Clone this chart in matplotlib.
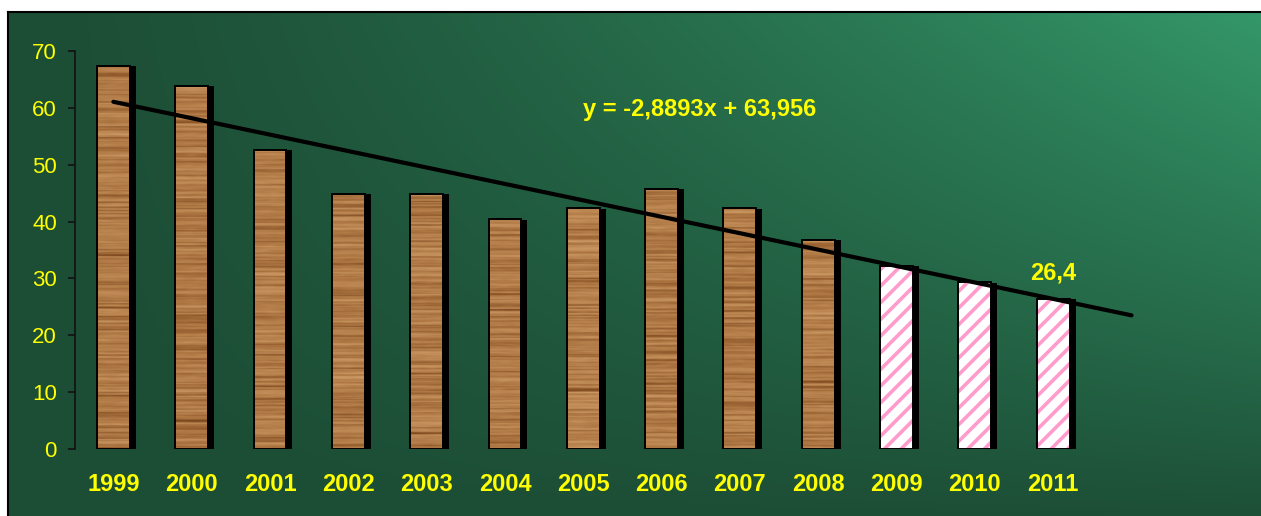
import numpy as np
import matplotlib.pyplot as plt
from matplotlib.patches import Rectangle
from matplotlib.colors import LinearSegmentedColormap

plt.rcParams['font.family'] = ['Liberation Sans', 'DejaVu Sans']
plt.rcParams['hatch.linewidth'] = 2.6

# --- data -------------------------------------------------------------
years = ['1999', '2000', '2001', '2002', '2003', '2004', '2005',
         '2006', '2007', '2008', '2009', '2010', '2011']
values = [67.4, 63.9, 52.6, 44.9, 44.9, 40.4, 42.3,
          45.8, 42.3, 36.8, 32.2, 29.3, 26.4]
n_actual = 10            # 1999-2008 measured, the rest forecast
slope = -2.8893
intercept = 63.956
trend_forward = 1        # periods the trend runs past the last bar

YELLOW = '#ffff00'
BAR_W = 0.42

wood_cmap = LinearSegmentedColormap.from_list(
    'wood', ['#5a2c0a', '#80481c', '#a26a38', '#bf8a55', '#d6a872'])
rng = np.random.default_rng(11)


def smooth(a, k):
    return np.convolve(a, np.ones(k) / k, mode='same')


def wood_texture(rows, cols):
    """Horizontal grain: broad tone bands, a few dark streaks, soft blotches."""
    grain = smooth(rng.normal(0, 1, rows + 8), 3)[4:-4]
    grain = (grain - grain.min()) / (np.ptp(grain) + 1e-9)
    streaks = np.zeros(rows)
    idx = rng.choice(rows, size=max(1, rows // 7), replace=False)
    streaks[idx] = rng.uniform(0.5, 1.0, len(idx))
    tex = 0.42 + 0.50 * grain[:, None] - 0.50 * streaks[:, None]
    blot = rng.normal(0, 1, (rows, cols))
    blot = np.apply_along_axis(smooth, 1, blot, 3)
    tex = tex + 0.08 * blot
    return np.clip(tex, 0, 1)


fig = plt.figure(figsize=(12.61, 5.16), dpi=100)

# --- gradient backdrop --------------------------------------------------
bg = fig.add_axes([8 / 1261, -0.02, 1.02, (516 - 12) / 516 + 0.02])
u = np.linspace(0, 1, 400)[None, :]
v = np.linspace(0, 1, 200)[:, None]
f = (u ** 1.3) * ((1 - v) ** 0.9)
dark = np.array([0x1c, 0x4d, 0x35]) / 255
light = np.array([0x35, 0x9a, 0x6b]) / 255
grad = dark + (light - dark) * f[..., None]
bg.imshow(grad, aspect='auto', extent=(0, 1, 0, 1), interpolation='bilinear')
bg.set_xlim(0, 1)
bg.set_ylim(0, 1)
bg.set_xticks([])
bg.set_yticks([])
for side, s in bg.spines.items():
    s.set_linewidth(1.5)
    s.set_color('black')
    s.set_visible(side in ('top', 'left'))

# --- main chart ---------------------------------------------------------
ax = fig.add_axes([75 / 1261, 67 / 516, 1174 / 1261, 398 / 516])
ax.patch.set_alpha(0)

x = np.arange(len(years))
dx = 6 / 78.35
dy = 4 / 56.9
for i, (xi, val) in enumerate(zip(x, values)):
    left = xi - BAR_W / 2
    # drop shadow
    ax.add_patch(Rectangle((left + dx, -0.04), BAR_W, val - dy + 0.04,
                           facecolor='black', edgecolor='none', zorder=1,
                           clip_on=False))
    if i < n_actual:
        rows = int(val * 56.9 / 4.5)
        tex = wood_texture(rows, 8)
        rect = Rectangle((left, 0), BAR_W, val, facecolor='none',
                         edgecolor='none')
        ax.add_patch(rect)
        im = ax.imshow(tex, cmap=wood_cmap, vmin=0, vmax=1, aspect='auto',
                       extent=(left, left + BAR_W, 0, val),
                       interpolation='bicubic', zorder=2)
        im.set_clip_path(rect)
    else:
        ax.add_patch(Rectangle((left, 0), BAR_W, val, facecolor='white',
                               edgecolor='#ff9ccc', hatch='//', linewidth=0,
                               zorder=2))
    ax.add_patch(Rectangle((left, 0), BAR_W, val, facecolor='none',
                           edgecolor='black', linewidth=1.4, zorder=3))

# linear trend (x counted 1..n as in the fitted equation)
tx = np.array([1, len(years) + trend_forward])
ax.plot(tx - 1, slope * tx + intercept, color='black', linewidth=3,
        solid_capstyle='round', zorder=4)

ax.text(7.49, 59.75, 'y = -2,8893x + 63,956', color=YELLOW, fontsize=17,
        fontweight='bold', ha='center', va='center', zorder=5)
ax.text(x[-1], values[-1] + 4.6, f'{values[-1]:.1f}'.replace('.', ','),
        color=YELLOW, fontsize=17, fontweight='bold', ha='center',
        va='center', zorder=5)

ax.set_xlim(-0.49, 14.5)
ax.set_ylim(0, 70)
ax.set_yticks(range(0, 71, 10))
ax.set_xticks(x)
ax.set_xticklabels(years, fontweight='bold')
ax.tick_params(axis='x', length=0, pad=17.5, labelsize=17, labelcolor=YELLOW)
ax.tick_params(axis='y', length=5, width=1.2, color='#111111', pad=8,
               labelsize=16, labelcolor=YELLOW)
for side in ('top', 'right', 'bottom'):
    ax.spines[side].set_visible(False)
ax.spines['left'].set_color('#111111')
ax.spines['left'].set_linewidth(1.2)

fig.savefig('out.png', dpi=100, facecolor='white')
